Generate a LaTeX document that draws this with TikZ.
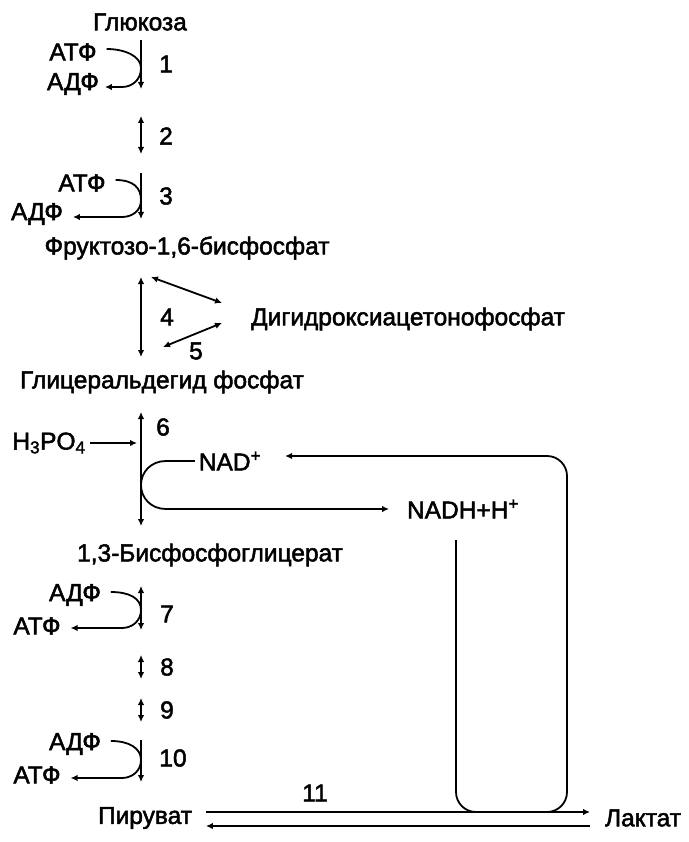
\documentclass[tikz,border=0pt]{standalone}
\usepackage{fontspec}
\setmainfont{Liberation Sans}
\newfontfamily\labelfont{Liberation Sans}[FakeBold=2]
\usetikzlibrary{arrows.meta}
\tikzset{metabolite/.style={inner sep=0pt, outer sep=0pt, font=\labelfont\fontsize{24.5}{27}\selectfont}}
\tikzset{step_label/.style={inner sep=0pt, outer sep=0pt, font=\labelfont\fontsize{24.5}{27}\selectfont}}
\tikzset{path_line/.style={line width=1.8pt}}
\tikzset{tip_end/.style={-{Latex[length=7pt,width=6.5pt]}}}
\tikzset{tip_both/.style={{Latex[length=7pt,width=6.5pt]}-{Latex[length=7pt,width=6.5pt]}}}

\begin{document}
\begin{tikzpicture}[x=1pt,y=-1pt]
    \useasboundingbox (0,0) rectangle (688,842);
    % main axis points
    \foreach \n/\ya/\yb in {1/40/89, 2/116/154, 3/173/219, 4/277/357, 6/412/526, 7/586/630, 8/655/679, 9/698/722, 10/740/782}
      {\coordinate (top\n) at (141,\ya); \coordinate (bot\n) at (141,\yb);}
    % metabolites
    \node[metabolite] (glucose) at (140,22) {Глюкоза};
    \node[metabolite] (fbp) at (187,248) {Фруктозо-1,6-бисфосфат};
    \node[metabolite] (dhap) at (408,319) {Дигидроксиацетонофосфат};
    \node[metabolite] (gap) at (162,382) {Глицеральдегид фосфат};
    \node[metabolite] (bpg) at (210,555) {1,3-Бисфосфоглицерат};
    \node[metabolite] (pyruvate) at (145,818) {Пируват};
    \node[metabolite] (lactate) at (643,818) {Лактат};
    % cofactors
    \node[metabolite] (atp1) at (73,52) {АТФ};
    \node[metabolite] (adp1) at (73,84) {АДФ};
    \node[metabolite] (atp3) at (82,183) {АТФ};
    \node[metabolite] (adp3) at (37,214) {АДФ};
    \node[metabolite] (h3po4) at (49,443) {H\textsubscript{3}PO\textsubscript{4}};
    \node[metabolite] (nad) at (230,461) {NAD\textsuperscript{+}};
    \node[metabolite] (nadh) at (463,509) {NADH+H\textsuperscript{+}};
    \node[metabolite] (adp7) at (75,595) {АДФ};
    \node[metabolite] (atp7) at (37,626) {АТФ};
    \node[metabolite] (adp10) at (75,744) {АДФ};
    \node[metabolite] (atp10) at (37,775) {АТФ};
    % step numbers
    \node[step_label] (n1) at (166,64) {1};
    \node[step_label] (n2) at (166,136) {2};
    \node[step_label] (n3) at (166,196) {3};
    \node[step_label] (n4) at (167,317) {4};
    \node[step_label] (n5) at (196,351) {5};
    \node[step_label] (n6) at (163,427) {6};
    \node[step_label] (n7) at (167,614) {7};
    \node[step_label] (n8) at (167,667) {8};
    \node[step_label] (n9) at (167,710) {9};
    \node[step_label] (n10) at (173,758) {10};
    \node[step_label] (n11) at (315,793) {11};
    % vertical reactions
    \draw[path_line,tip_end] (top1)--(bot1);
    \draw[path_line,tip_both] (top2)--(bot2);
    \draw[path_line,tip_end] (top3)--(bot3);
    \draw[path_line,tip_both] (top4)--(bot4);
    \draw[path_line,tip_both] (top6)--(bot6);
    \draw[path_line,tip_both] (top7)--(bot7);
    \draw[path_line,tip_both] (top8)--(bot8);
    \draw[path_line,tip_both] (top9)--(bot9);
    \draw[path_line,tip_end] (top10)--(bot10);
    % cofactor hooks
    \draw[path_line,tip_end] ([xshift=10pt,yshift=3pt]atp1.east) .. controls +(18,0) and (141,56) .. (141,68)
      .. controls (141,80) and (132,87) .. (122,87) -- ([xshift=6pt,yshift=-3pt]adp1.east);
    \draw[path_line,tip_end] ([xshift=10pt,yshift=3pt]atp3.east) .. controls +(18,0) and (141,188) .. (141,200)
      .. controls (141,211) and (132,217) .. (122,217) -- ([xshift=10pt,yshift=-3pt]adp3.east);
    \draw[path_line,tip_end] ([xshift=10pt,yshift=3pt]adp7.east) .. controls +(18,0) and (141,598) .. (141,610)
      .. controls (141,621) and (132,628) .. (122,628) -- ([xshift=10pt,yshift=-2pt]atp7.east);
    \draw[path_line,tip_end] ([xshift=10pt,yshift=3pt]adp10.east) .. controls +(18,0) and (141,748) .. (141,760)
      .. controls (141,771) and (132,778) .. (122,778) -- ([xshift=10pt,yshift=-3pt]atp10.east);
    % triose phosphates
    \draw[path_line,tip_both] (151,277)--(222,303);
    \draw[path_line,tip_both] (222,323)--(163,347);
    % phosphate and NAD
    \draw[path_line,tip_end] ([xshift=4pt]h3po4.east)--(137,443);
    \draw[path_line,tip_end] ([xshift=-4pt]nad.west) -- (166,461) .. controls (151,461) and (141,472) .. (141,485)
      .. controls (141,498) and (151,509) .. (166,509) -- ([xshift=-18pt]nadh.west);
    \draw[path_line,tip_end,rounded corners=20pt] (456,540) -- (456,812) -- (567,812) -- (567,456) -- ([xshift=24pt,yshift=5pt]nad.east);
    % pyruvate <-> lactate
    \draw[path_line,tip_end] ([xshift=14pt,yshift=6pt]pyruvate.east) -- ([xshift=-15pt,yshift=6pt]lactate.west);
    \draw[path_line,tip_end] ([xshift=-15pt,yshift=-8pt]lactate.west) -- ([xshift=14pt,yshift=-8pt]pyruvate.east);
\end{tikzpicture}
\end{document}
